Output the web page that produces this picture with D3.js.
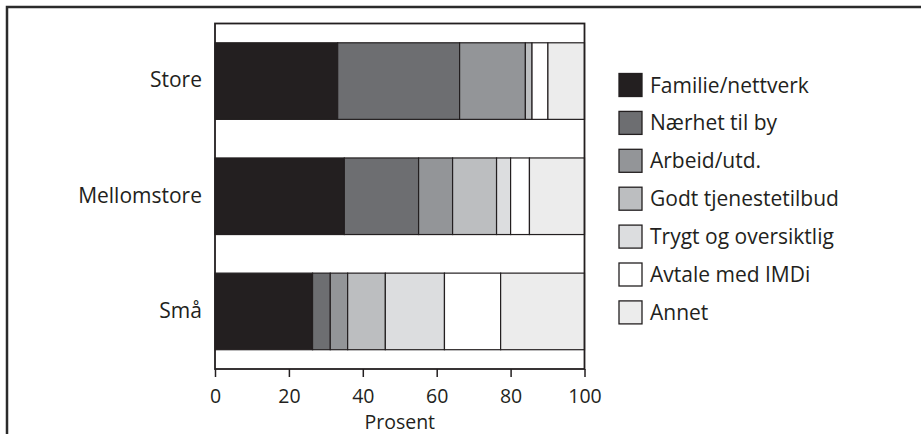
<!DOCTYPE html>
<html><head><meta charset="utf-8">
<script src="https://cdn.jsdelivr.net/npm/d3@7"></script>
<style>body{margin:0;background:#fff}svg{display:block}text{font-family:"Open Sans",sans-serif;fill:#231f20}</style>
</head><body><svg id="c" width="921" height="434"></svg>
<script>
const categories = ["Store", "Mellomstore", "Små"];
const seriesNames = ["Familie/nettverk", "Nærhet til by", "Arbeid/utd.", "Godt tjenestetilbud", "Trygt og oversiktlig", "Avtale med IMDi", "Annet"];
const familie = [33.2, 35.0, 26.4];
const naerhet = [33.0, 20.1, 4.8];
const arbeid = [17.8, 9.2, 4.7];
const godt = [1.8, 11.9, 10.2];
const trygt = [0, 3.8, 16.0];
const avtale = [4.3, 5.1, 15.2];
const annet = [9.9, 14.9, 22.7];
const colors = ["#231f20", "#6d6e71", "#939598", "#bcbec0", "#dcdddf", "#ffffff", "#ececec"];
const xTicks = [0, 20, 40, 60, 80, 100];
const xTitle = "Prosent";

const seriesValues = [familie, naerhet, arbeid, godt, trygt, avtale, annet];
const rows = categories.map((c, i) => {
  const r = {cat: c};
  seriesNames.forEach((s, j) => r[s] = seriesValues[j][i]);
  return r;
});
const stack = d3.stack().keys(seriesNames)(rows);

const svg = d3.select("#c");
const x = d3.scaleLinear().domain([0, 100]).range([215, 584.5]);
const y = d3.scaleBand().domain(categories).range([23.5, 369]).paddingInner(0.335).paddingOuter(0.1675);
const color = d3.scaleOrdinal().domain(seriesNames).range(colors);

// outer frame
svg.append("path").attr("d", "M7,434V7H921").attr("fill", "none").attr("stroke", "#2b2b2b").attr("stroke-width", 2.5);

// bars
svg.append("g").selectAll("g").data(stack).join("g")
  .attr("fill", d => color(d.key))
  .selectAll("rect").data(d => d).join("rect")
  .attr("x", d => x(d[0])).attr("width", d => x(d[1]) - x(d[0]))
  .attr("y", d => y(d.data.cat)).attr("height", y.bandwidth())
  .attr("stroke", "#231f20").attr("stroke-width", 1.2);

// plot frame
svg.append("rect").attr("x", x(0)).attr("y", 23.5).attr("width", x(100) - x(0)).attr("height", 369 - 23.5)
  .attr("fill", "none").attr("stroke", "#231f20").attr("stroke-width", 1.8);

// x axis
const xa = svg.append("g").attr("transform", "translate(0,369)")
  .call(d3.axisBottom(x).tickValues(xTicks).tickSize(8).tickPadding(12).tickFormat(d3.format("d")));
xa.select(".domain").remove();
xa.selectAll("line").attr("stroke", "#231f20").attr("stroke-width", 1.5);
xa.selectAll("text").attr("font-size", 19.5).attr("font-family", "Open Sans").attr("fill", "#231f20");

svg.append("text").attr("x", (x(0) + x(100)) / 2).attr("y", 429).attr("text-anchor", "middle")
  .attr("font-size", 19.5).text(xTitle);

// category labels
svg.append("g").selectAll("text").data(categories).join("text")
  .attr("x", 202).attr("y", d => y(d) + y.bandwidth() / 2).attr("dy", "0.3em")
  .attr("text-anchor", "end").attr("font-size", 21).text(d => d);

// legend
const lg = svg.append("g").selectAll("g").data(seriesNames).join("g")
  .attr("transform", (d, i) => `translate(619,${73.5 + i * 37.9})`);
lg.append("rect").attr("width", 23).attr("height", 23).attr("fill", d => color(d))
  .attr("stroke", "#231f20").attr("stroke-width", 1.3);
lg.append("text").attr("x", 31).attr("y", 11.5).attr("dy", "0.36em").attr("font-size", 21).text(d => d);
</script></body></html>
